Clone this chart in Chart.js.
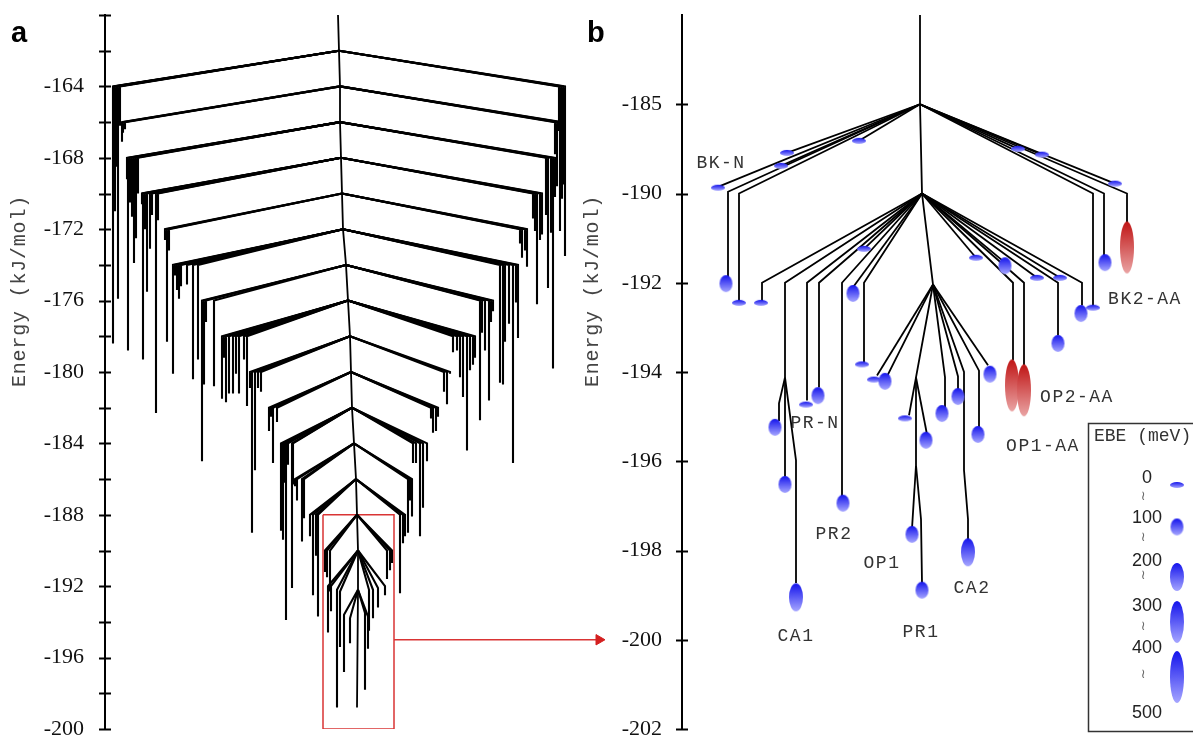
<!DOCTYPE html>
<html><head><meta charset="utf-8">
<script src="https://cdn.jsdelivr.net/npm/chart.js@4.4.1/dist/chart.umd.min.js"></script>
<style>
html,body{margin:0;padding:0;background:#fff;width:1193px;height:737px;overflow:hidden;}
#wa{position:absolute;left:0;top:0;width:620px;height:737px;}
#wb{position:absolute;left:560px;top:0;width:633px;height:737px;}
</style></head><body>
<div id="wa"><canvas id="ca"></canvas></div>
<div id="wb"><canvas id="cb"></canvas></div>
<script>
// ---------------- Panel a data ----------------
const aTickValues = [-160,-162,-164,-166,-168,-170,-172,-174,-176,-178,-180,-182,-184,-186,-188,-190,-192,-194,-196,-198,-200];
const aTickLabelValues = [-164,-168,-172,-176,-180,-184,-188,-192,-196,-200];
const aTrunk = [[338,-160],[339,-162],[340,-164],[340,-166],[341,-168],[342,-170],[343,-172],[346,-174],[348,-176],[350,-178],[351,-180],[352,-182],[354,-184],[356,-186],[357,-188],[358,-190],[358,-192.2],[357,-198.8]];
const aLevels = [-162,-164,-166,-168,-170,-172,-174,-176,-178,-180,-182,-184,-186,-188];
const aLeftDrops = [
 [[113,-178.4],[114,-169.5],[115,-171],[117,-168.5],[118,-175.9],[120,-166.2]],
 [[122,-167.1],[123,-166.6],[125,-166.4]],
 [[127,-169.2],[128,-178.8],[130,-170.5],[132,-171.3],[134,-173.9],[136,-172.5],[138,-170]],
 [[142,-170.6],[143,-179.3],[145,-172],[147,-175.5],[150,-173.1],[152,-171.2],[156,-182.3],[158,-171.5]],
 [[165,-172.6],[167,-178.3],[169,-173.2]],
 [[173,-180.1],[175,-174.6],[177,-175.4],[179,-175.9],[181,-175.2],[187,-175.1],[193,-180.4],[198,-179.3]],
 [[202,-185.0],[204,-180.7],[206,-177.2],[214,-180.8]],
 [[222,-181.5],[224,-179.2],[226,-181.7],[229,-181.2],[233,-181.2],[236,-180.1],[239,-181.2],[244,-179.3],[247,-181.9]],
 [[250,-180.9],[252,-189.0],[255,-185.5],[258,-180.9],[261,-181.1]],
 [[269,-183.3],[271,-182.5],[273,-185.1],[277,-182.8]],
 [[281,-188.9],[283,-189.4],[285,-186.2],[286,-193.9],[288,-185.2],[292,-192.1],[293,-186.3]],
 [[295,-186.4],[297,-187.2],[302,-189.5],[304,-188.2]],
 [[310,-189.2],[313,-192.5],[316,-190.3],[318,-193.7]],
 [[325,-191.2],[327,-191.5],[330,-192.3]]
];
const aRightDrops = [
 [[565,-173.5],[563,-169.5],[561,-168.2],[559,-166.5]],
 [[562,-170.3],[560,-172.1],[557,-169.6],[555,-167.8]],
 [[555,-170.2],[553,-179.8],[551,-172.2],[548,-175.3],[546,-171.2]],
 [[542,-172.3],[540,-172.6],[537,-176.2],[535,-172.1],[533,-171.4]],
 [[527,-174.1],[525,-173.2],[522,-173.6],[520,-172.8]],
 [[518,-178.1],[516,-176.1],[513,-185.1],[509,-177.3],[505,-178.3],[503,-180.7],[500,-180.6]],
 [[493,-176.6],[491,-177.2],[489,-181.6],[485,-178.8],[482,-177.8],[480,-182.7]],
 [[475,-179.2],[473,-179.6],[470,-179.9],[467,-184.4],[463,-181.4],[460,-180.3],[457,-178.8],[453,-178.9]],
 [[450,-180.1],[447,-181.8],[444,-181.1]],
 [[438,-182.5],[436,-183.3],[433,-183.4],[431,-182.6]],
 [[427,-185.0],[423,-187.6],[420,-189.2],[416,-185.1],[413,-185.1]],
 [[408,-189.0],[410,-187.2],[412,-188.1]],
 [[405,-189.2],[403,-189.6],[400,-192.4]],
 [[392,-190.7],[390,-191.1],[387,-191.6]]
];
const aCore = [
 [[358,-190],[328,-192.0],[328,-194.6]],
 [[358,-190],[331,-192.0],[331,-193.4]],
 [[358,-190],[337,-192.2],[337,-198.8]],
 [[358,-190],[340,-192.3],[340,-195.4]],
 [[358,-190],[385,-192.0],[385,-192.5]],
 [[358,-190],[378,-192.1],[378,-193.2]],
 [[358,-190],[373,-192.2],[373,-193.8]],
 [[358,-190],[369,-192.2],[369,-194.5]],
 [[358,-192.2],[350,-193.8],[350,-195.2]],
 [[358,-192.2],[344,-193.6],[344,-196.8]],
 [[358,-192.2],[365,-193.5],[365,-197.8]],
 [[358,-192.2],[368,-193.7],[368,-195.5]]
];
const aZoomBoxX = [323,394];
const aZoomBoxE = [-188,-200];
const aArrowX = [394,603];
const aArrowE = -195;

// ---------------- Panel b data ----------------
const bTickValues = [-188,-190,-192,-194,-196,-198,-200,-202];
const bTickLabels = ['-185','-190','-192','-194','-196','-198','-200','-202'];
const bTrunk = [[920,-186],[920,-188],[922,-190],[933,-192.04]];
const bBranches = [
 [[920,-188],[718,-189.85]],
 [[920,-188],[728,-189.96],[728,-191.9]],
 [[920,-188],[739,-190.0],[739,-192.42]],
 [[920,-188],[787,-189.09]],
 [[920,-188],[781,-189.38]],
 [[920,-188],[859,-188.82]],
 [[920,-188],[1018,-189.0]],
 [[920,-188],[1042,-189.13]],
 [[920,-188],[1115,-189.78]],
 [[920,-188],[1127,-190.0],[1127,-190.72]],
 [[920,-188],[1104,-190.0],[1104,-191.39]],
 [[920,-188],[1093,-190.0],[1093,-192.56]],
 [[922,-190],[762,-192],[762,-192.42]],
 [[922,-190],[785,-192],[785,-194.12]],
 [[785,-194.12],[779,-194.7],[779,-195.1]],
 [[785,-194.12],[785,-196.35]],
 [[785,-194.12],[796,-195.98],[796,-198.73]],
 [[922,-190],[807,-192],[807,-194.64]],
 [[922,-190],[819,-192],[819,-194.35]],
 [[922,-190],[842,-192],[842,-196.8]],
 [[922,-190],[853,-192.1]],
 [[922,-190],[864,-192],[864,-193.79]],
 [[922,-190],[864,-191.24]],
 [[922,-190],[976,-191.44]],
 [[922,-190],[1005,-191.55]],
 [[922,-190],[1037,-191.89]],
 [[922,-190],[1060,-191.89]],
 [[922,-190],[1013,-192],[1013,-193.74]],
 [[922,-190],[1024,-192],[1024,-193.85]],
 [[922,-190],[1058,-192],[1058,-193.18]],
 [[922,-190],[1082,-192],[1082,-192.51]],
 [[933,-192.04],[877,-194.08]],
 [[933,-192.04],[887,-194.1]],
 [[933,-192.04],[916,-194.12],[916,-196.09]],
 [[916,-194.12],[909,-194.97]],
 [[916,-194.12],[927,-195.4]],
 [[916,-196.09],[912,-197.5]],
 [[916,-196.09],[921,-197.3],[922,-198.73]],
 [[933,-192.04],[945,-194.12],[945,-194.8]],
 [[933,-192.04],[958,-194.1],[958,-194.4]],
 [[933,-192.04],[964,-194.0],[964,-196.2],[968,-197.3],[968,-197.8]],
 [[933,-192.04],[979,-193.97],[979,-195.25]],
 [[933,-192.04],[988,-193.85]]
];
// minima: x, energy, EBE bin (0:0-100,1:100-200,2:200-300,3:300-400,4:400-500 meV), colour group
const bMinX = [718,726,739,787,781,859,1018,1042,1115,1127,1105,1093,761,775,785,796,806,818,843,853,862,864,976,1005,1037,1060,1012,1024,1058,1081,874,885,905,926,912,922,942,958,968,978,990];
const bMinE = [-189.87,-192.02,-192.45,-189.09,-189.38,-188.82,-189.0,-189.13,-189.78,-191.21,-191.55,-192.56,-192.45,-195.24,-196.52,-199.05,-194.73,-194.53,-196.94,-192.24,-193.83,-191.24,-191.44,-191.62,-191.89,-191.89,-194.3,-194.41,-193.36,-192.69,-194.17,-194.21,-195.04,-195.53,-197.64,-198.89,-194.93,-194.55,-198.04,-195.4,-194.05];
const bMinEBE = [0,1,0,0,0,0,0,0,0,4,1,0,0,1,1,2,0,1,1,1,0,0,0,1,0,0,4,4,1,1,0,1,0,1,1,1,1,1,2,1,1];
const bMinRed = [0,0,0,0,0,0,0,0,0,1,0,0,0,0,0,0,0,0,0,0,0,0,0,0,0,0,1,1,0,0,0,0,0,0,0,0,0,0,0,0,0];
const bLabelText = ['BK-N','BK2-AA','PR-N','OP2-AA','OP1-AA','PR2','OP1','CA2','CA1','PR1'];
const bLabelX = [721,1145,815,1077,1043,834,882,972,796,921];
const bLabelE = [-189.33,-192.36,-195.15,-194.57,-195.67,-197.64,-198.29,-198.84,-199.92,-199.83];
const legendValues = ['0','100','200','300','400','500'];

// ---------------- styles ----------------
const ellipseSizes = [[14,6],[13,17],[14,28],[14,42],[14,52]];
const imgCache = {};
function ellipseImg(cls, red) {
  const key = cls + '_' + red;
  if (imgCache[key]) return imgCache[key];
  const [w, h] = ellipseSizes[cls];
  const c = document.createElement('canvas');
  c.width = w + 2; c.height = h + 2;
  const g = c.getContext('2d');
  const grad = g.createLinearGradient(0, 1, 0, h + 1);
  if (red) { grad.addColorStop(0, '#c01515'); grad.addColorStop(1, '#eaa4a4'); }
  else { grad.addColorStop(0, '#1414ec'); grad.addColorStop(1, '#a6a6ff'); }
  g.fillStyle = grad;
  g.beginPath(); g.ellipse((w + 2) / 2, (h + 2) / 2, w / 2, h / 2, 0, 0, Math.PI * 2); g.fill();
  imgCache[key] = c; return c;
}
function poly(points, color, width) {
  return { data: points.map(p => ({x: p[0], y: p[1]})), showLine: true, borderColor: color, backgroundColor: color,
    borderWidth: width, pointRadius: 0, pointHoverRadius: 0, tension: 0, fill: false, order: 2 };
}
function trunkX(trunk, e) { const t = trunk.find(p => Math.abs(p[1] - e) < 1e-6); return t[0]; }

// ---------------- Panel a datasets ----------------
const LW = 2.1;
const aDatasets = [];
aDatasets.push(poly(aTrunk, '#000', 1.8));
aLevels.forEach((lev, i) => {
  const nx = trunkX(aTrunk, lev);
  aLeftDrops[i].forEach(d => aDatasets.push(poly([[nx, lev], [d[0], lev - 2], [d[0], d[1]]], '#000', LW)));
  aRightDrops[i].forEach(d => aDatasets.push(poly([[nx, lev], [d[0], lev - 2], [d[0], d[1]]], '#000', LW)));
});
aCore.forEach(c => aDatasets.push(poly(c, '#000', LW)));
aDatasets.push(poly([[aZoomBoxX[0], aZoomBoxE[0]], [aZoomBoxX[1], aZoomBoxE[0]], [aZoomBoxX[1], aZoomBoxE[1]], [aZoomBoxX[0], aZoomBoxE[1]], [aZoomBoxX[0], aZoomBoxE[0]]], '#d93434', 1.5));
aDatasets.push(poly([[aArrowX[0], aArrowE], [aArrowX[1] - 5, aArrowE]], '#d93434', 1.5));
aDatasets.push({ data: [{x: aArrowX[1] - 4, y: aArrowE}], showLine: false, pointStyle: 'triangle', rotation: 90,
  pointRadius: 6, pointHoverRadius: 6, backgroundColor: '#d42020', borderColor: '#d42020', borderWidth: 1, order: 1 });

function tickCross(ctx, scale, left) {
  ctx.save(); ctx.strokeStyle = '#000'; ctx.lineWidth = 2;
  scale.ticks.forEach(t => {
    const y = Math.round(scale.getPixelForValue(t.value)) + 0.5;
    ctx.beginPath(); ctx.moveTo(left - 6, y); ctx.lineTo(left + 6, y); ctx.stroke();
  });
  ctx.restore();
}
function axisTitle(ctx, x, y) {
  ctx.save(); ctx.translate(x, y); ctx.rotate(-Math.PI / 2);
  ctx.font = '20px "Liberation Mono"'; ctx.fillStyle = '#444';
  ctx.textAlign = 'center'; ctx.textBaseline = 'middle';
  ctx.letterSpacing = '0.8px';
  ctx.fillText('Energy (kJ/mol)', 0, 0);
  ctx.restore();
}

const aPlugin = {
  id: 'aDecor',
  afterDraw(chart) {
    const ctx = chart.ctx;
    tickCross(ctx, chart.scales.y, chart.chartArea.left);
    axisTitle(ctx, 20, 291);
    ctx.save(); ctx.font = 'bold 29px "Liberation Sans"'; ctx.fillStyle = '#000';
    ctx.textBaseline = 'alphabetic'; ctx.fillText('a', 11, 42); ctx.restore();
  }
};

new Chart(document.getElementById('ca'), {
  type: 'scatter',
  data: { datasets: aDatasets },
  options: {
    responsive: true, maintainAspectRatio: false, animation: false, devicePixelRatio: 1,
    layout: { autoPadding: false, padding: { top: 15, bottom: 8, left: 0, right: 0 } },
    plugins: { legend: { display: false }, tooltip: { enabled: false } },
    events: [],
    scales: {
      x: { type: 'linear', display: false, min: 105, max: 620 },
      y: { type: 'linear', min: -200, max: -160,
        afterBuildTicks: s => { s.ticks = aTickValues.map(v => ({ value: v })); },
        afterFit: s => { s.width = 105; s.paddingTop = 0; s.paddingBottom = 0; },
        ticks: { autoSkip: false, padding: 21, color: '#111', font: { family: 'Liberation Serif', size: 22 },
          callback: v => aTickLabelValues.includes(v) ? String(v) : '' },
        grid: { drawOnChartArea: false, drawTicks: false },
        border: { display: true, color: '#000', width: 2 } }
    }
  },
  plugins: [aPlugin]
});

// ---------------- Panel b datasets ----------------
const bDatasets = [];
bDatasets.push(poly(bTrunk, '#000', 1.8));
bBranches.forEach(b => bDatasets.push(poly(b, '#000', 1.8)));
bDatasets.push({
  data: bMinX.map((x, i) => ({ x: x, y: bMinE[i] })), showLine: false,
  pointStyle: bMinX.map((x, i) => ellipseImg(bMinEBE[i], bMinRed[i])),
  pointRadius: 7, pointHoverRadius: 7, order: -1
});

const bOffset = 560;
const bPlugin = {
  id: 'bDecor',
  afterDraw(chart) {
    const ctx = chart.ctx, xs = chart.scales.x, ys = chart.scales.y;
    tickCross(ctx, ys, chart.chartArea.left);
    axisTitle(ctx, 593 - bOffset, 291);
    ctx.save(); ctx.font = 'bold 29px "Liberation Sans"'; ctx.fillStyle = '#000';
    ctx.fillText('b', 587 - bOffset, 42); ctx.restore();
    // state labels
    ctx.save();
    ctx.font = '18px "Liberation Mono"'; ctx.fillStyle = '#333';
    ctx.textAlign = 'center'; ctx.textBaseline = 'middle'; ctx.letterSpacing = '1.5px';
    bLabelText.forEach((t, i) => ctx.fillText(t, xs.getPixelForValue(bLabelX[i]), ys.getPixelForValue(bLabelE[i])));
    ctx.restore();
    // EBE legend
    ctx.save();
    ctx.strokeStyle = '#333'; ctx.lineWidth = 1.5;
    ctx.strokeRect(1088.5 - bOffset, 423.5, 200, 308);
    ctx.font = '18px "Liberation Mono"'; ctx.fillStyle = '#333'; ctx.textBaseline = 'middle'; ctx.textAlign = 'left';
    ctx.fillText('EBE (meV)', 1094 - bOffset, 436);
    const numY = [478, 518, 561, 606, 648, 713];
    ctx.font = '18px "Liberation Sans"'; ctx.fillStyle = '#222'; ctx.textAlign = 'center';
    legendValues.forEach((v, i) => ctx.fillText(v, 1147 - bOffset, numY[i]));
    const sqY = [497, 538, 576, 627, 675];
    ctx.font = '13px "DejaVu Sans"'; ctx.fillStyle = '#666';
    sqY.forEach(y => ctx.fillText('\u2240', 1143 - bOffset, y));
    const elY = [485, 527, 577, 622, 677];
    elY.forEach((y, i) => { const im = ellipseImg(i, 0); ctx.drawImage(im, 1177 - bOffset - im.width / 2, y - im.height / 2); });
    ctx.restore();
  }
};

new Chart(document.getElementById('cb'), {
  type: 'scatter',
  data: { datasets: bDatasets },
  options: {
    responsive: true, maintainAspectRatio: false, animation: false, devicePixelRatio: 1,
    layout: { autoPadding: false, padding: { top: 15, bottom: 8, left: 0, right: 0 } },
    plugins: { legend: { display: false }, tooltip: { enabled: false } },
    events: [],
    scales: {
      x: { type: 'linear', display: false, min: 682, max: 1193 },
      y: { type: 'linear', min: -202, max: -186,
        afterBuildTicks: s => { s.ticks = bTickValues.map(v => ({ value: v })); },
        afterFit: s => { s.width = 122; s.paddingTop = 0; s.paddingBottom = 0; },
        ticks: { autoSkip: false, padding: 20, color: '#111', font: { family: 'Liberation Serif', size: 22 },
          callback: (v, i) => bTickLabels[i] },
        grid: { drawOnChartArea: false, drawTicks: false },
        border: { display: true, color: '#000', width: 2 } }
    }
  },
  plugins: [bPlugin]
});
</script></body></html>
